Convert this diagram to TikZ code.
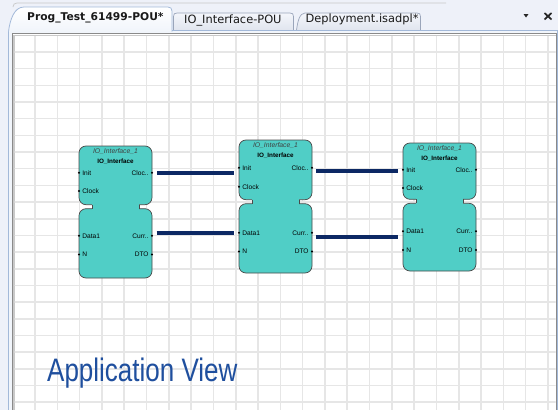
\documentclass[tikz,border=0pt]{standalone}
\usepackage{fontspec}
\setmainfont{Liberation Sans}
\newfontfamily\tabfont{DejaVu Sans}

\definecolor{panelbg}{HTML}{EEF1F9}
\definecolor{tabborder}{HTML}{9AA5BA}
\definecolor{tabtop}{HTML}{F4F6FB}
\definecolor{tabbottom}{HTML}{E0E5EE}
\definecolor{frameblue}{HTML}{A3B9D9}
\definecolor{framefill}{HTML}{F1F5FB}
\definecolor{canvasdark}{HTML}{8A8A8A}
\definecolor{canvaslight}{HTML}{C9C9C9}
\definecolor{gridc}{HTML}{E6E6E6}
\definecolor{fbfill}{HTML}{50CEC6}
\definecolor{fbedge}{HTML}{4A4A4A}
\definecolor{wire}{HTML}{0C2864}
\definecolor{titleblue}{HTML}{1F4F9E}

\tikzset{
  gridline/.style={draw=gridc, line width=1.6pt},
  fbbody/.style={fill=fbfill, draw=fbedge, line width=0.7pt, rounded corners=7pt},
  portdot/.style={circle, fill=black, inner sep=0pt, minimum size=2.2pt},
  pintext/.style={inner sep=0pt, text height=4.7pt, text depth=0pt,
    font=\fontsize{6.6}{7}\selectfont},
  pinl/.style={pintext, anchor=west},
  pinr/.style={pintext, anchor=east},
  wireline/.style={draw=wire, line width=3.6pt},
  tablabel/.style={anchor=base west, inner sep=0pt, text=black!90},
  inactivetab/.style={draw=tabborder, line width=0.7pt, top color=tabtop, bottom color=tabbottom},
}

% Function block: #1 name prefix, #2 left, #3 right, #4 top, #5 bottom,
% #6 neck centre, #7 Init/Cloc.. row, #8 Clock row, #9 Data1/Curr.. row
\newcommand\fbblock[9]{%
  \pgfmathsetmacro\bL{#2}\pgfmathsetmacro\bR{#3}%
  \pgfmathsetmacro\bT{#4}\pgfmathsetmacro\bB{#5}%
  \pgfmathsetmacro\bNa{#6-2}\pgfmathsetmacro\bNb{#6+2}%
  \pgfmathsetmacro\bLn{#2+13}\pgfmathsetmacro\bRn{#3-13}%
  \pgfmathsetmacro\bCx{(#2+#3)/2}%
  \pgfmathsetmacro\bNrow{#9+18.7}%
  % event half and data half, joined by a narrow neck
  \draw[fbbody] (\bL,\bT) rectangle (\bR,\bNa);
  \draw[fbbody] (\bL,\bNb) rectangle (\bR,\bB);
  \fill[fbfill] (\bLn+0.4,\bNa-1) rectangle (\bRn-0.4,\bNb+1);
  \draw[fbedge, line width=0.7pt] (\bLn,\bNa) -- (\bLn,\bNb) (\bRn,\bNa) -- (\bRn,\bNb);
  % instance and type names
  \node[inner sep=0pt, text=black!75, font=\itshape\fontsize{6.8}{7}\selectfont]
    (#1name) at (\bCx,\bT+5.6) {IO\_Interface\_1};
  \node[inner sep=0pt, font=\bfseries\fontsize{6.3}{7}\selectfont]
    (#1type) at (\bCx,\bT+15.7) {IO\_Interface};
  % pins
  \node[portdot] (#1pInit) at (\bL,#7) {};
  \node[portdot] (#1pClock) at (\bL,#8) {};
  \node[portdot] (#1pData) at (\bL,#9) {};
  \node[portdot] (#1pN) at (\bL,\bNrow) {};
  \node[portdot] (#1pCloc) at (\bR,#7) {};
  \node[portdot] (#1pCurr) at (\bR,#9) {};
  \node[portdot] (#1pDTO) at (\bR,\bNrow) {};
  \node[pinl] (#1tInit) at (\bL+3.2,#7) {Init};
  \node[pinl] (#1tClock) at (\bL+3.2,#8) {Clock};
  \node[pinl] (#1tData) at (\bL+3.2,#9) {Data1};
  \node[pinl] (#1tN) at (\bL+3.2,\bNrow) {N};
  \node[pinr] (#1tCloc) at (\bR-3.2,#7) {Cloc..};
  \node[pinr] (#1tCurr) at (\bR-3.2,#9) {Curr..};
  \node[pinr] (#1tDTO) at (\bR-3.2,\bNrow) {DTO};
}

\begin{document}
\begin{tikzpicture}[x=1pt, y=-1pt]
  \useasboundingbox (0,0) rectangle (558,410);
  \fill[panelbg] (0,0) rectangle (558,410);

  % upper edge of the tab strip
  \draw[draw=black!22, line width=0.7pt] (13,7) .. controls (13,4.5) and (14.5,3) .. (17,3) -- (446,3);

  % inactive tabs
  \path[inactivetab] (173.5,30.5) -- (173.5,16.5) .. controls (173.5,14) and (174.5,13) .. (177,13)
    -- (290,13) .. controls (292.5,13) and (293.5,14) .. (293.5,16.5) -- (293.5,30.5);
  \path[inactivetab] (296.5,30.5) .. controls (297.5,22) and (299.5,13) .. (305,13)
    -- (417,13) .. controls (419.5,13) and (420.5,14) .. (420.5,16.5) -- (420.5,30.5);

  % editor frame
  \draw[draw=frameblue, fill=framefill, line width=0.8pt] (8.5,30) rectangle (557.5,420);

  % active tab, open into the frame
  \path[draw=frameblue, line width=0.8pt, top color=white, bottom color=framefill]
    (8.5,31.5) .. controls (10,20) and (14,7) .. (24,7) -- (168,7)
    .. controls (170.5,7) and (172,8.5) .. (172,11) -- (172,31.5);

  % tab labels
  \node[tablabel, font=\tabfont\bfseries\fontsize{10.7}{12}\selectfont] (tab1) at (27,20.7) {Prog\_Test\_61499-POU*};
  \node[tablabel, font=\tabfont\fontsize{11.4}{12}\selectfont] (tab2) at (184,23) {IO\_Interface-POU};
  \node[tablabel, font=\tabfont\fontsize{11.4}{12}\selectfont] (tab3) at (305.5,22.7) {Deployment.isadpl*};

  % tab list arrow and close button
  \fill[black!85] (523.5,14) -- (528.5,14) -- (526,17.5) -- cycle;
  \draw[black!85, line width=1.7pt] (544.5,13) -- (551.5,19.5) (544.5,19.5) -- (551.5,13);

  % drawing canvas with grid
  \draw[fill=white, draw=canvasdark, line width=1pt] (12.6,33.8) rectangle (556,420);
  \draw[draw=canvaslight, line width=1.4pt] (14,35.4) -- (555.5,35.4) (14,35.4) -- (14,420);
  \begin{scope}
    \clip (14.7,36.1) rectangle (555.5,410);
    \foreach \i in {0,...,24} \draw[gridline] ({35+22.3*\i},36) -- ({35+22.3*\i},410);
    \foreach \j in {0,...,22} \draw[gridline] (14,{52+16.67*\j}) -- (556,{52+16.67*\j});
  \end{scope}

  % function blocks
  \fbblock{b1}{79}{152}{146}{278}{206.7}{172.7}{191}{235.7}
  \fbblock{b2}{239}{312}{140}{273}{201.7}{167.7}{186.7}{232.7}
  \fbblock{b3}{403}{476}{143}{271}{201.3}{169.7}{188}{231.3}

  % connections
  \draw[wireline] ([xshift=5pt]b1pCloc.center) -- ([xshift=-5pt]b1pCloc.center -| b2pInit.center);
  \draw[wireline] ([xshift=4.5pt]b2pData.center -| b1pCurr.center) -- ([xshift=-5pt]b2pData.center);
  \draw[wireline] ([xshift=4pt,yshift=-1pt]b3pInit.center -| b2pCloc.center) -- ([xshift=-5pt,yshift=-1pt]b3pInit.center);
  \draw[wireline] ([xshift=4pt,yshift=-4.5pt]b2pCurr.center) -- ([xshift=-5pt,yshift=-4.5pt]b2pCurr.center -| b3pData.center);

  % view caption
  \node[anchor=base west, inner sep=0pt, text=titleblue, font=\fontsize{32.5}{36}\selectfont]
    (caption) at (47,381.7) {\scalebox{0.8}[1]{Application View}};
\end{tikzpicture}
\end{document}
